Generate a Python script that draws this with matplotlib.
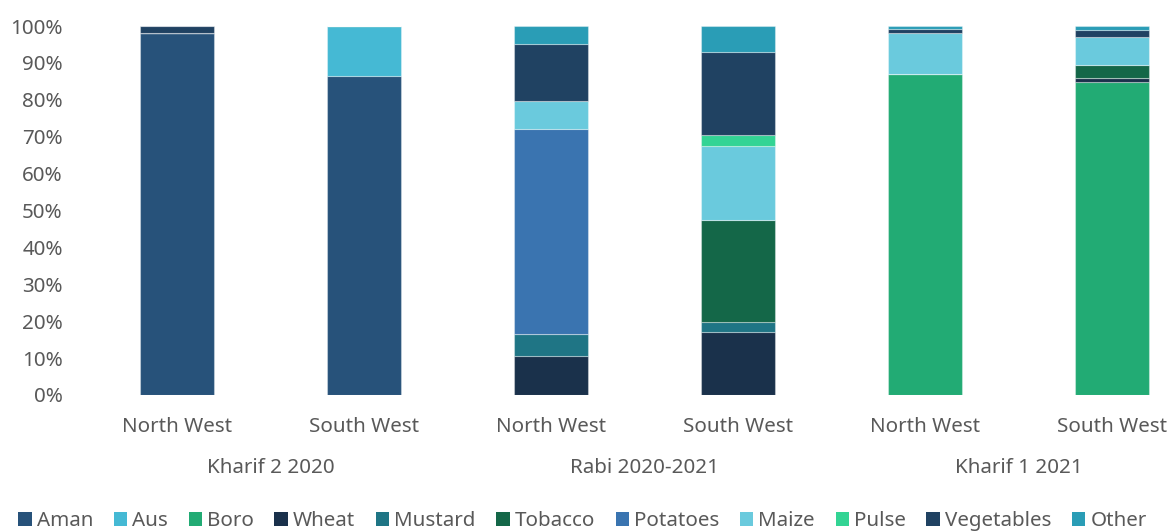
import matplotlib
matplotlib.use("Agg")
import matplotlib.pyplot as plt
from matplotlib.patches import Patch
from matplotlib.transforms import blended_transform_factory
import numpy as np

plt.rcParams['font.family'] = ['Noto Sans', 'DejaVu Sans']

regions = ["North West", "South West", "North West", "South West", "North West", "South West"]
seasons = ["Kharif 2 2020", "Rabi 2020-2021", "Kharif 1 2021"]

crops = ["Aman", "Aus", "Boro", "Wheat", "Mustard", "Tobacco",
         "Potatoes", "Maize", "Pulse", "Vegetables", "Other"]

# share of cultivated area per crop (%), one value per bar
aman       = [98.2, 86.4, 0.0,  0.0,  0.0,  0.0]
aus        = [0.0,  13.6, 0.0,  0.0,  0.0,  0.0]
boro       = [0.0,  0.0,  0.0,  0.0,  87.1, 84.8]
wheat      = [0.0,  0.0,  10.6, 17.2, 0.0,  1.2]
mustard    = [0.0,  0.0,  5.9,  2.5,  0.0,  0.0]
tobacco    = [0.0,  0.0,  0.0,  27.7, 0.0,  3.4]
potatoes   = [0.0,  0.0,  55.6, 0.0,  0.0,  0.0]
maize      = [0.0,  0.0,  7.6,  20.2, 11.1, 7.7]
pulse      = [0.0,  0.0,  0.0,  2.8,  0.0,  0.0]
vegetables = [1.8,  0.0,  15.5, 22.6, 1.1,  1.9]
other      = [0.0,  0.0,  4.8,  7.0,  0.7,  1.0]

colors = ["#27527a", "#45b9d4", "#22ab74", "#1a314b", "#1f7585", "#146748",
          "#3a74b0", "#6acadd", "#33d494", "#204262", "#2a9db6"]

series = [aman, aus, boro, wheat, mustard, tobacco,
          potatoes, maize, pulse, vegetables, other]

W, H = 1172, 531
fig = plt.figure(figsize=(W / 100, H / 100), dpi=100)
ax = fig.add_axes([83.5 / W, 136 / H, 1 - 83.5 / W, 369 / H])

x = np.arange(len(regions))
bottom = np.zeros(len(regions))
for name, vals, col in zip(crops, series, colors):
    v = np.array(vals, dtype=float)
    ax.bar(x, v, 0.4, bottom=bottom, color=col, label=name,
           edgecolor=(1, 1, 1, 0.35), linewidth=0.8)
    bottom += v

ax.set_ylim(0, 100)
ax.set_xlim(-0.5, (W - 177) / 187)
ax.set_yticks(np.arange(0, 101, 10))
ax.set_yticklabels([f"{t}%" for t in range(0, 101, 10)])
ax.set_xticks(x)
ax.set_xticklabels(regions)
ax.tick_params(axis='y', length=0, pad=15, labelsize=14.8, labelcolor="#595959")
ax.tick_params(axis='x', length=0, pad=15.5, labelsize=14.8, labelcolor="#595959")
for s in ax.spines.values():
    s.set_visible(False)

trans = blended_transform_factory(ax.transData, fig.transFigure)
for i, season in enumerate(seasons):
    ax.text(2 * i + 0.5, 1 - 468 / H, season, transform=trans, ha='center',
            va='center', fontsize=14.8, color="#595959")

handles = [Patch(facecolor=c, edgecolor='none', label=n) for n, c in zip(crops, colors)]
fig.legend(handles=handles, loc='center', bbox_to_anchor=(0.497, 1 - 521 / H),
           ncol=len(crops), frameon=False, fontsize=14.8, labelcolor="#595959",
           handlelength=0.65, handleheight=0.65, handletextpad=0.25,
           columnspacing=1.0, borderaxespad=0)

fig.savefig("out.png", dpi=100)
